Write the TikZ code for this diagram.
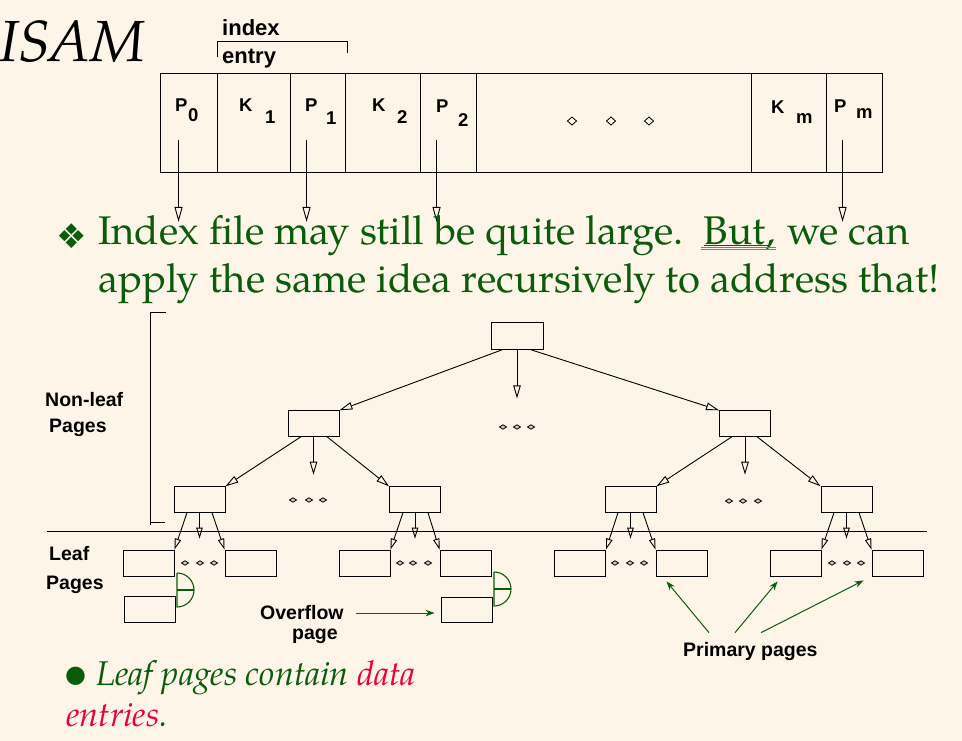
\documentclass[tikz,border=0pt]{standalone}
\usepackage{fontspec}
\setmainfont{TeX Gyre Pagella}
\newfontfamily\arial{Liberation Sans}
\newfontfamily\djv{DejaVu Sans}
\usetikzlibrary{arrows.meta}
\definecolor{bg}{RGB}{254,245,233}
\definecolor{grn}{RGB}{10,92,10}
\definecolor{rd}{RGB}{235,0,55}
\definecolor{ublue}{RGB}{80,130,230}
\begin{document}
\begin{tikzpicture}[x=1pt,y=-1pt,
  pg/.style={draw=black, line width=0.9pt, inner sep=0pt, minimum width=51pt, minimum height=25.5pt},
  cell/.style={draw=black, line width=0.9pt, inner sep=0pt, minimum height=99pt},
  lbl/.style={inner sep=0pt, anchor=base west, font=\arial\bfseries\fontsize{19.5}{19.5}\selectfont},
  clbl/.style={inner sep=0pt, anchor=base west, font=\arial\bfseries\fontsize{18.5}{18.5}\selectfont},
  txt/.style={inner sep=0pt, anchor=base west, text=grn, font=\fontsize{40}{40}\selectfont},
  itx/.style={inner sep=0pt, anchor=base west, text=grn, font=\itshape\fontsize{34.3}{34.3}\selectfont},
  tarr/.style={line width=0.9pt, -{Triangle[open,length=13pt,width=7.5pt]}},
  sarr/.style={line width=0.9pt, -{Triangle[open,length=11pt,width=6.5pt]}},
  rarr/.style={line width=0.9pt, -{Triangle[open,length=15pt,width=8pt]}},
  garr/.style={draw=grn, line width=1pt, -{Stealth[length=9pt,width=6.5pt]}},
  dline/.style={line width=0.9pt}
]
\useasboundingbox (0,0) rectangle (962,741);
\fill[bg] (0,0) rectangle (962,741);

% title
\node[anchor=base west, inner sep=0pt, font=\itshape\fontsize{58}{58}\selectfont] (title) at (-1,62) {ISAM};

% index entry
\node[lbl, font=\arial\bfseries\fontsize{22}{22}\selectfont] (idx) at (222,36) {index};
\node[lbl, font=\arial\bfseries\fontsize{22}{22}\selectfont] (ent) at (222,64) {entry};
\draw[dline] (217,57) -- (217,41) -- (347,41) -- (347,53);

% record
\node[cell, minimum width=57pt]  (c0) at (188.5,122.5) {};
\node[cell, minimum width=73pt]  (c1) at (253.5,122.5) {};
\node[cell, minimum width=55pt]  (c2) at (317.5,122.5) {};
\node[cell, minimum width=75pt]  (c3) at (382.5,122.5) {};
\node[cell, minimum width=56pt]  (c4) at (448,122.5) {};
\node[cell, minimum width=275pt] (c5) at (613.5,122.5) {};
\node[cell, minimum width=75pt]  (c6) at (788.5,122.5) {};
\node[cell, minimum width=56pt]  (c7) at (854,122.5) {};

\node[clbl] (p0) at (175,112) {P};  \node[clbl] (p0s) at (188,122) {0};
\node[clbl] (k1) at (239,112) {K};  \node[clbl] (k1s) at (265,124) {1};
\node[clbl] (p1) at (305,112) {P};  \node[clbl] (p1s) at (326,125) {1};
\node[clbl] (k2) at (372,112) {K};  \node[clbl] (k2s) at (397,124) {2};
\node[clbl] (p2) at (436,113) {P};  \node[clbl] (p2s) at (458,127) {2};
\node[clbl] (km) at (771,114) {K};  \node[clbl] (kms) at (796,124) {m};
\node[clbl] (pm) at (834,113) {P};  \node[clbl] (pms) at (856,119) {m};

\foreach \x in {572,611,649}
  \draw[line width=0.8pt] (\x-4.5,121) -- (\x,117) -- (\x+4.5,121) -- (\x,125) -- cycle;

\draw[rarr] ([xshift=19pt,yshift=-17.5pt]c0.west) -- ++(0,82);
\draw[rarr] ([xshift=17pt,yshift=-17.5pt]c2.west) -- ++(0,82);
\draw[rarr] ([xshift=17pt,yshift=-17.5pt]c4.west) -- ++(0,82);
\draw[rarr] ([xshift=17pt,yshift=-17.5pt]c7.west) -- ++(0,82);

% bullet text
\node[inner sep=0pt, text=grn, font=\djv\fontsize{34}{34}\selectfont] (b1) at (72,236) {❖};
\node[txt] (l1a) at (98,244) {Index file may still be quite large.};
\node[txt] (but) at ([xshift=20pt]l1a.base east) {But,};
\node[txt] (l1c) at ([xshift=12pt]but.base east) {we can};
\node[txt] (l2) at (98,292) {apply the same idea recursively to address that!};
\draw[grn, line width=1pt] ([yshift=-1pt]but.base west) -- ([xshift=-8pt,yshift=-1pt]but.base east);
\draw[ublue, line width=0.8pt] ([xshift=-3pt,yshift=-3.5pt]but.base west) -- ([yshift=-3.5pt]but.base east);
\draw[ublue, line width=0.8pt] ([xshift=-3pt,yshift=-5.5pt]but.base west) -- ([yshift=-5.5pt]but.base east);

% non-leaf bracket and labels
\draw[dline] (166,312) -- (150,312) -- (150,525);
\draw[dline] (150,522) -- (165,522);
\node[lbl] (nl) at (45,406) {Non-leaf};
\node[lbl] (nlp) at (49,432) {Pages};
\node[lbl] (lf) at (49,560) {Leaf};
\node[lbl] (lfp) at (46,589) {Pages};
\draw[dline] (47,531) -- (927,531);

% tree
\node[pg, minimum width=52pt, minimum height=27pt] (root) at (517,335.5) {};
\node[pg] (L1a) at (313.5,423.5) {};
\node[pg] (L1b) at (745,423.5) {};
\node[pg] (L2a) at (199.5,499.5) {};
\node[pg] (L2b) at (415,499.5) {};
\node[pg] (L2c) at (630.5,499.5) {};
\node[pg] (L2d) at (846.5,499.5) {};
\node[pg, minimum height=26pt] (la1) at (148.5,563) {};
\node[pg, minimum height=26pt] (la2) at (250.5,563) {};
\node[pg, minimum height=26pt] (lb1) at (364.5,563) {};
\node[pg, minimum height=26pt] (lb2) at (465.5,563) {};
\node[pg, minimum height=26pt] (lc1) at (580,563) {};
\node[pg, minimum height=26pt] (lc2) at (681.5,563) {};
\node[pg, minimum height=26pt] (ld1) at (795.5,563) {};
\node[pg, minimum height=26pt] (ld2) at (897.5,563) {};
\node[pg, minimum height=26pt] (oa) at (149.5,609) {};
\node[pg, minimum height=25pt] (ob) at (466.5,609.5) {};

\draw[tarr] ([xshift=-14pt]root.south) -- (L1a.north east);
\draw[tarr] ([xshift=13pt]root.south) -- (L1b.north west);
\draw[tarr] (root.south) -- ++(0,49);
\draw[tarr] ([xshift=-12.5pt]L1a.south) -- (L2a.north east);
\draw[tarr] ([xshift=13.5pt]L1a.south) -- (L2b.north west);
\draw[tarr] (L1a.south) -- ++(0,38);
\draw[tarr] ([xshift=-13pt]L1b.south) -- (L2c.north east);
\draw[tarr] ([xshift=12pt]L1b.south) -- (L2d.north west);
\draw[tarr] (L1b.south) -- ++(0,38);

\draw[sarr] ([xshift=-12.5pt]L2a.south) -- (la1.north east);
\draw[sarr] (L2a.south) -- ++(0,26);
\draw[sarr] ([xshift=12.5pt]L2a.south) -- (la2.north west);
\draw[sarr] ([xshift=-12pt]L2b.south) -- (lb1.north east);
\draw[sarr] (L2b.south) -- ++(0,26);
\draw[sarr] ([xshift=13pt]L2b.south) -- (lb2.north west);
\draw[sarr] ([xshift=-12.5pt]L2c.south) -- (lc1.north east);
\draw[sarr] (L2c.south) -- ++(0,26);
\draw[sarr] ([xshift=12.5pt]L2c.south) -- (lc2.north west);
\draw[sarr] ([xshift=-12.5pt]L2d.south) -- (ld1.north east);
\draw[sarr] (L2d.south) -- ++(0,26);
\draw[sarr] ([xshift=12.5pt]L2d.south) -- (ld2.north west);

% ellipsis dots
\foreach \x/\y in {503/427,517/427,531/427, 293/500,309/500,323/500, 729/501,743/501,758/501,
   185/563,200/563,214/563, 400/563,413/563,428/563, 615/563,630/563,644/563, 832/563,847/563,861/563}
  \draw[line width=0.8pt, fill=gray!40] (\x-3.5,\y) -- (\x,\y-2.2) -- (\x+3.5,\y) -- (\x,\y+2.2) -- cycle;

% overflow connectors (green half discs)
\draw[grn, line width=1.1pt] (177,573) -- (177,607) arc[start angle=90, end angle=-90, radius=17];
\draw[grn, line width=1.1pt] (177,590) -- (194,590);
\draw[grn, line width=1.1pt] (494,572) -- (494,606) arc[start angle=90, end angle=-90, radius=17];
\draw[grn, line width=1.1pt] (494,589) -- (511,589);

% labels overflow / primary
\node[lbl] (ovl) at (260,619) {Overflow};
\node[lbl] (ovp) at (292,639) {page};
\draw[garr] ([xshift=12pt,yshift=-1pt]ovl.east) -- ([xshift=-6pt,yshift=-1pt]ob.west |- ovl.east);

\node[lbl] (pp) at (683,656) {Primary pages};
\draw[garr] ([xshift=26pt,yshift=9pt]pp.north west) -- ([xshift=11pt,yshift=-5pt]lc2.south west);
\draw[garr] ([xshift=52pt,yshift=9pt]pp.north west) -- ([xshift=8pt,yshift=-5pt]ld1.south west);
\draw[garr] ([xshift=78pt,yshift=9pt]pp.north west) -- ([xshift=-8pt,yshift=-4pt]ld2.south west);

% bottom bullet
\node[inner sep=0pt, text=grn, font=\djv\fontsize{24}{24}\selectfont] (b2) at (75.5,676) {●};
\node[itx] (bt1) at (96,685) {Leaf pages contain \textcolor{rd}{data}};
\node[itx] (bt2) at (66,726) {\textcolor{rd}{entries}.};
\end{tikzpicture}
\end{document}
